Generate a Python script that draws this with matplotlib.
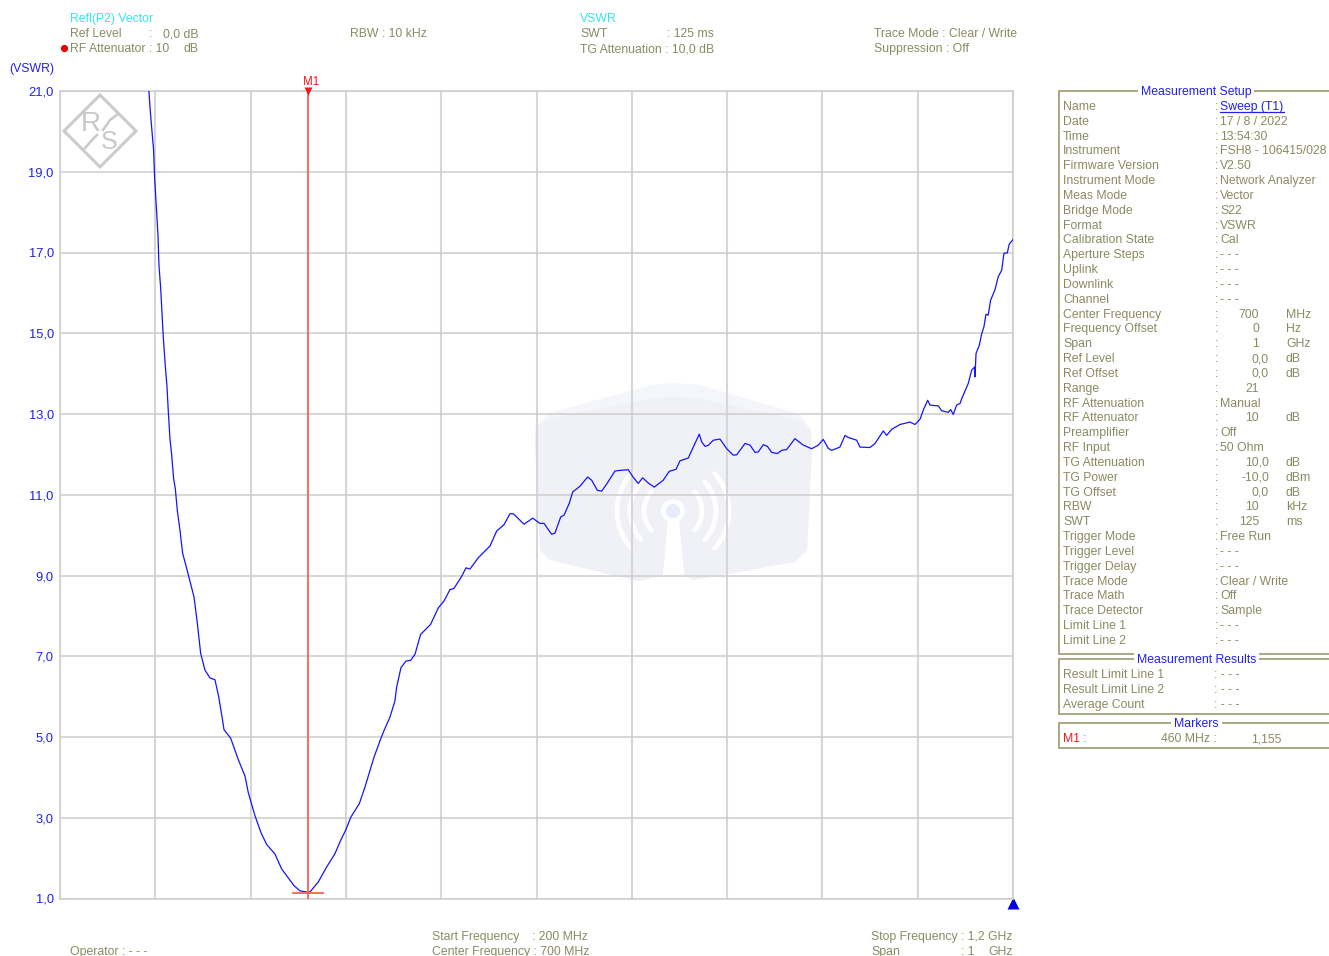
import matplotlib
matplotlib.use('Agg')
import matplotlib.pyplot as plt
from matplotlib.patches import Polygon, Arc, Circle, Rectangle

# Trace (MHz, VSWR)
freq = [293.3, 294.4, 295.8, 298.2, 299.3, 301.4, 302.8, 303.8, 305.6, 307.3, 308.4, 310.5, 312.2, 313.6, 315.4,
        317.1, 319.2, 321.0, 323.1, 325.9, 328.7, 334.3, 340.6, 344.1, 347.6, 352.1, 357.4, 362.6, 366.5, 370.0,
        372.1, 379.1, 387.1, 394.1, 397.6, 404.6, 410.9, 416.8, 425.6, 432.6, 445.5, 451.8, 458.8, 462.3, 471.0,
        479.8, 488.5, 494.5, 499.7, 505.3, 514.1, 520.0, 525.3, 529.5, 535.8, 540.0, 546.2, 551.5, 553.2, 557.8,
        563.0, 568.0, 572.5, 578.4, 588.9, 597.0, 603.0, 609.2, 613.4, 621.5, 626.0, 630.2, 638.9, 651.2, 658.2,
        665.9, 672.2, 675.7, 686.9, 696.0, 703.7, 707.9, 715.9, 719.4, 725.4, 728.8, 734.4, 738.0, 745.6, 753.7,
        757.9, 763.8, 768.4, 774.3, 782.4, 790.8, 796.3, 801.3, 806.8, 811.4, 817.3, 823.6, 833.0, 839.3, 846.4,
        850.6, 859.3, 864.5, 870.8, 873.3, 876.8, 880.0, 885.5, 892.5, 899.6, 906.5, 910.1, 918.8, 924.0, 929.3,
        932.7, 938.0, 942.2, 946.8, 952.7, 957.3, 962.5, 971.2, 979.9, 988.7, 995.7, 1000.9, 1006.2, 1009.7, 1018.4,
        1023.7, 1027.1, 1036.0, 1039.4, 1049.9, 1055.2, 1063.9, 1067.4, 1072.7, 1081.4, 1091.9, 1097.1, 1102.4, 1106.6, 1110.5,
        1112.9, 1121.6, 1125.2, 1132.1, 1134.6, 1137.3, 1140.9, 1144.4, 1146.2, 1153.1, 1156.7, 1160.1, 1160.1, 1161.2, 1164.6,
        1167.1, 1169.5, 1171.6, 1174.0, 1176.5, 1181.0, 1184.5, 1188.1, 1190.5, 1194.0, 1196.1, 1200.0]
vswr = [21.0, 20.61, 20.2, 19.54, 18.84, 17.98, 17.44, 16.7, 16.13, 15.39, 14.89, 14.19, 13.7, 13.08, 12.38,
        12.01, 11.4, 11.15, 10.61, 10.12, 9.55, 9.05, 8.47, 7.82, 7.07, 6.66, 6.46, 6.42, 6.0, 5.5,
        5.18, 4.97, 4.44, 4.03, 3.62, 3.05, 2.63, 2.34, 2.1, 1.73, 1.32, 1.19, 1.16, 1.16, 1.41,
        1.78, 2.11, 2.44, 2.69, 3.02, 3.35, 3.76, 4.17, 4.5, 4.91, 5.16, 5.49, 5.9, 6.23, 6.72,
        6.88, 6.9, 7.05, 7.54, 7.79, 8.2, 8.37, 8.65, 8.68, 8.98, 9.19, 9.16, 9.44, 9.73, 10.1,
        10.26, 10.53, 10.53, 10.27, 10.42, 10.29, 10.29, 10.02, 10.05, 10.45, 10.49, 10.79, 11.07, 11.21, 11.44,
        11.36, 11.11, 11.09, 11.29, 11.59, 11.61, 11.62, 11.44, 11.28, 11.42, 11.29, 11.19, 11.36, 11.58, 11.63,
        11.84, 11.91, 12.18, 12.5, 12.31, 12.2, 12.22, 12.35, 12.38, 12.14, 11.98, 11.99, 12.27, 12.23, 12.05,
        12.06, 12.24, 12.2, 12.05, 12.02, 12.1, 12.12, 12.39, 12.23, 12.14, 12.23, 12.37, 12.15, 12.1, 12.18,
        12.47, 12.42, 12.35, 12.18, 12.17, 12.27, 12.58, 12.47, 12.62, 12.74, 12.8, 12.74, 12.87, 13.14, 13.34,
        13.22, 13.2, 13.08, 13.04, 13.11, 12.99, 13.22, 13.26, 13.38, 13.76, 14.09, 14.17, 13.92, 14.5, 14.7,
        14.98, 15.16, 15.47, 15.45, 15.82, 16.07, 16.4, 16.56, 16.98, 16.99, 17.21, 17.32]

marker_freq = 460
marker_vswr = 1.13

x_ticks = list(range(200, 1201, 100))
y_ticks = [1, 3, 5, 7, 9, 11, 13, 15, 17, 19, 21]
y_labels = ['1,0', '3,0', '5,0', '7,0', '9,0', '11,0', '13,0', '15,0', '17,0', '19,0', '21,0']

# Panel derecho: etiqueta, valor, unidad
setup_labels = ['Name', 'Date', 'Time', 'Instrument', 'Firmware Version', 'Instrument Mode', 'Meas Mode',
                'Bridge Mode', 'Format', 'Calibration State', 'Aperture Steps', 'Uplink', 'Downlink', 'Channel',
                'Center Frequency', 'Frequency Offset', 'Span', 'Ref Level', 'Ref Offset', 'Range',
                'RF Attenuation', 'RF Attenuator', 'Preamplifier', 'RF Input', 'TG Attenuation', 'TG Power',
                'TG Offset', 'RBW', 'SWT', 'Trigger Mode', 'Trigger Level', 'Trigger Delay', 'Trace Mode',
                'Trace Math', 'Trace Detector', 'Limit Line 1', 'Limit Line 2']
setup_values = ['Sweep (T1)', '17 / 8 / 2022', '13:54:30', 'FSH8 - 106415/028', 'V2.50', 'Network Analyzer', 'Vector',
                'S22', 'VSWR', 'Cal', '- - -', '- - -', '- - -', '- - -',
                '700', '0', '1', '0,0', '0,0', '21',
                'Manual', '10', 'Off', '50 Ohm', '10,0', '-10,0',
                '0,0', '10', '125', 'Free Run', '- - -', '- - -', 'Clear / Write',
                'Off', 'Sample', '- - -', '- - -']
setup_units = {'Center Frequency': 'MHz', 'Frequency Offset': 'Hz', 'Span': 'GHz', 'Ref Level': 'dB',
               'Ref Offset': 'dB', 'RF Attenuator': 'dB', 'TG Attenuation': 'dB', 'TG Power': 'dBm',
               'TG Offset': 'dB', 'RBW': 'kHz', 'SWT': 'ms'}
result_labels = ['Result Limit Line 1', 'Result Limit Line 2', 'Average Count']

OLIVE = '#8a8a62'
BLUE = '#2020f0'
CYAN = '#35e6f2'
RED = '#f01818'
GRID = '#d6d6d6'
WM = '#f0f1f7'

plt.rcParams['font.family'] = ['Liberation Sans', 'DejaVu Sans']
W, H = 1329, 956
fig = plt.figure(figsize=(W / 100, H / 100), dpi=100, facecolor='white')

# Capa de fondo en pixeles
bg = fig.add_axes([0, 0, 1, 1], zorder=0)
bg.set_xlim(0, W)
bg.set_ylim(H, 0)
bg.axis('off')


def txt(x, y, s, color=OLIVE, size=8.8, ha='left', **kw):
    return bg.text(x, y + 1, s, color=color, fontsize=size, ha=ha, va='center', **kw)


# Marca de agua
bg.add_patch(Polygon([(673, 383), (700, 385), (800, 414), (811, 430), (812, 450), (807, 550), (795, 562), (693, 580),
                      (684, 575), (662, 575), (640, 581), (625, 578), (550, 560), (540, 550), (535, 440), (536, 425),
                      (550, 413), (650, 385)], closed=True, fc='#f4f6fc', ec='none'))
bg.add_patch(Polygon([(673, 397), (700, 399), (800, 420), (811, 432), (812, 450), (807, 550), (795, 562), (693, 580),
                      (684, 575), (662, 575), (640, 581), (625, 578), (550, 560), (540, 550), (535, 440), (536, 428),
                      (550, 418), (650, 399)], closed=True, fc=WM, ec='none'))
bg.add_patch(Polygon([(668, 520), (679, 520), (685, 584), (662, 584)], closed=True, fc='white', ec='none'))
bg.add_patch(Circle((673, 511), 9.5, fc='#e8ebf9', ec='white', lw=3.4))
for r in [29, 43, 56]:
    bg.add_patch(Arc((673, 511), 2 * r, 2 * r, theta1=-42, theta2=42, color='white', lw=3.4, capstyle='round'))
    bg.add_patch(Arc((673, 511), 2 * r, 2 * r, theta1=138, theta2=222, color='white', lw=3.4, capstyle='round'))

# Logo R&S
bg.add_patch(Polygon([(100, 95), (136, 131), (100, 167), (64, 131)], closed=True, fc='none', ec='#cbcbcb', lw=2.2))
txt(91, 123, 'R', color='#c8c8c8', size=20, ha='center')
txt(109, 141, 'S', color='#c8c8c8', size=18, ha='center')
bg.plot([118, 110, 103], [114, 120, 130], color='#c8c8c8', lw=1.8)
bg.plot([97, 92, 85], [135, 140, 148], color='#c8c8c8', lw=1.8)

# Cabecera
txt(70, 18, 'Refl(P2) Vector', color=CYAN)
txt(70, 33, 'Ref Level')
txt(149, 33, ':')
txt(163, 33, '0,0 dB')
txt(70, 48, 'RF Attenuator : 10')
txt(183, 48, 'dB')
bg.plot([64], [47.5], 'o', color='#f00000', ms=5.2, mec='none')
txt(350, 33, 'RBW : 10 kHz')
txt(580, 18, 'VSWR', color=CYAN)
txt(580, 33, 'SWT')
txt(667, 33, ': 125 ms')
txt(580, 48, 'TG Attenuation : 10,0 dB')
txt(874, 33, 'Trace Mode : Clear / Write')
txt(874, 48, 'Suppression : Off')
txt(54, 68, '(VSWR)', color=BLUE, ha='right')

# Pie
txt(70, 951, 'Operator : - - -')
txt(432, 936, 'Start Frequency')
txt(532, 936, ': 200 MHz')
txt(432, 951, 'Center Frequency : 700 MHz')
txt(871, 936, 'Stop Frequency : 1,2 GHz')
txt(871, 951, 'Span')
txt(961, 951, ': 1')
txt(988, 951, 'GHz')
bg.plot([1013], [902.5], '^', color='#0000e0', ms=8.5, mec='none', clip_on=False)

# Grafica principal
ax = fig.add_axes([60 / W, 1 - 898.5 / H, 953 / W, 807.5 / H], zorder=1)
ax.patch.set_alpha(0)
ax.set_xlim(200, 1200)
ax.set_ylim(1, 21)
ax.set_xticks(x_ticks)
ax.set_yticks(y_ticks)
ax.set_yticklabels(y_labels, color=BLUE, fontsize=9.3)
ax.tick_params(axis='x', length=0, labelbottom=False)
ax.tick_params(axis='y', length=0, pad=4.5)
ax.grid(True, axis='x', color=GRID, lw=1.5)
ax.grid(True, axis='y', color='#cdcdcd', lw=1.1)
ax.set_axisbelow(True)
for s in ax.spines.values():
    s.set_color('#cdcdcd')
    s.set_linewidth(1.1)
ax.plot(freq, vswr, color='#1414ff', lw=0.9, solid_joinstyle='round', zorder=3)
ax.axvline(marker_freq, color='#f86060', lw=1.3, zorder=4)
ax.plot([444, 476], [marker_vswr, marker_vswr], color='#f86060', lw=1.3, zorder=4)
ax.plot([marker_freq], [21], 'v', color=RED, ms=5.5, mec='none', clip_on=False, zorder=5)
txt(311, 81, 'M1', color=RED, size=8.3, ha='center')


# Paneles derechos
def panel(top, bottom, title, tx0, tx1):
    bg.plot([W, 1058.5, 1058.5, W], [top, top, bottom, bottom], color='#9a9a70', lw=1.2, solid_joinstyle='miter')
    bg.add_patch(Rectangle((tx0, top - 6), tx1 - tx0, 12, fc='white', ec='none', zorder=3))
    txt((tx0 + tx1) / 2, top, title, color=BLUE, ha='center', zorder=4)


panel(91, 654, 'Measurement Setup', 1138, 1254)
panel(659, 714, 'Measurement Results', 1134, 1259)
panel(723, 748, 'Markers', 1171, 1222)

for i, (lab, val) in enumerate(zip(setup_labels, setup_values)):
    y = 106 + i * 14.83
    txt(1063, y, lab)
    txt(1215, y, ':')
    if i == 0:
        txt(1220, y, val, color=BLUE)
        bg.plot([1220, 1284], [y + 6, y + 6], color=BLUE, lw=0.9)
    elif lab == 'Range' or lab in setup_units:
        right = 1269 if ',' in val else 1259
        txt(right, y, val, ha='right')
        if lab in setup_units:
            txt(1286, y, setup_units[lab])
    else:
        txt(1220, y, val)

for i, lab in enumerate(result_labels):
    y = 674 + i * 15
    txt(1063, y, lab)
    txt(1214, y, ': - - -')

txt(1063, 738, 'M1', color=RED)
txt(1083, 738, ':')
txt(1217, 738, '460 MHz :', ha='right')
txt(1251, 738, '1,155')

fig.savefig('out.png', dpi=100, facecolor='white')
